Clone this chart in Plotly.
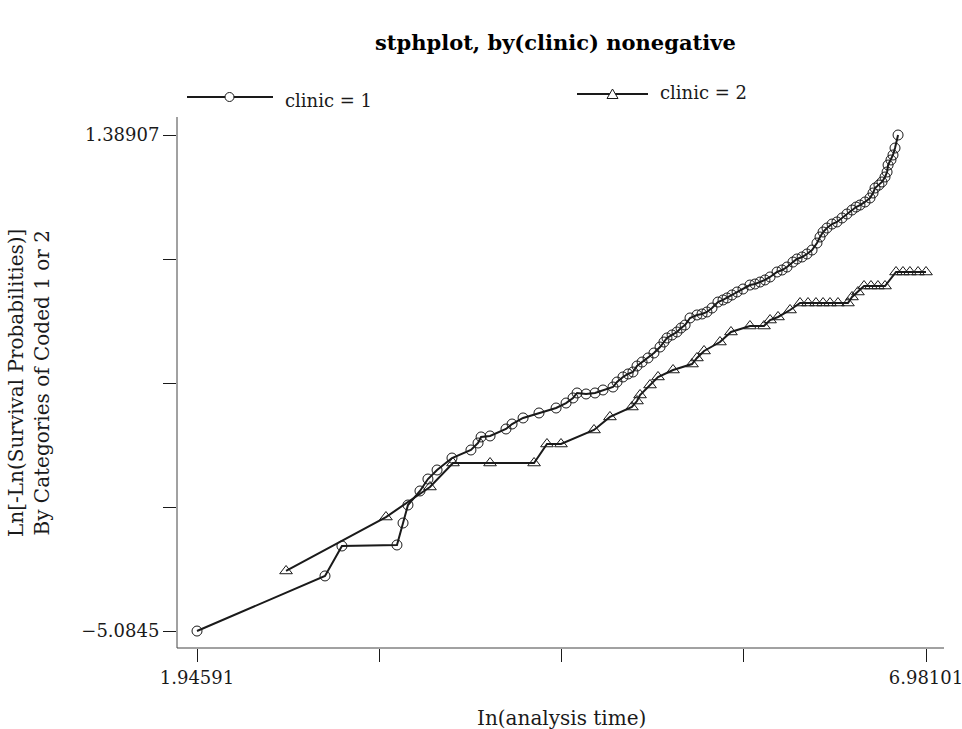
import plotly.graph_objects as go

# ln(analysis time) and ln[-ln(S)] for each clinic
clinic1_x = [1.946, 2.830, 2.947, 3.327, 3.369, 3.403, 3.486, 3.541, 3.604, 3.707,
             3.838, 3.887, 3.908, 3.970, 4.080, 4.122, 4.198, 4.308, 4.426, 4.495,
             4.543, 4.571, 4.633, 4.695, 4.750, 4.819, 4.847, 4.888, 4.923, 4.957,
             4.985, 5.020, 5.061, 5.102, 5.144, 5.171, 5.192, 5.227, 5.261, 5.289,
             5.317, 5.351, 5.399, 5.434, 5.468, 5.503, 5.544, 5.579, 5.607, 5.641,
             5.676, 5.717, 5.765, 5.800, 5.835, 5.869, 5.904, 5.952, 5.987, 6.021,
             6.062, 6.090, 6.125, 6.159, 6.194, 6.228, 6.249, 6.270, 6.297, 6.332,
             6.366, 6.401, 6.435, 6.470, 6.498, 6.525, 6.560, 6.594, 6.615, 6.629,
             6.656, 6.677, 6.698, 6.712, 6.719, 6.739, 6.753, 6.767, 6.788]
clinic1_y = [-5.085, -4.366, -3.975, -3.962, -3.675, -3.440, -3.257, -3.101, -2.983, -2.827,
             -2.722, -2.631, -2.552, -2.539, -2.448, -2.383, -2.304, -2.239, -2.174, -2.109,
             -2.043, -1.978, -1.991, -1.978, -1.939, -1.900, -1.835, -1.769, -1.730, -1.704,
             -1.626, -1.574, -1.521, -1.456, -1.378, -1.313, -1.260, -1.221, -1.182, -1.130,
             -1.091, -0.999, -0.960, -0.947, -0.921, -0.869, -0.791, -0.764, -0.738, -0.699,
             -0.660, -0.621, -0.569, -0.556, -0.530, -0.503, -0.464, -0.399, -0.373, -0.334,
             -0.269, -0.229, -0.203, -0.164, -0.112, -0.021, 0.058, 0.123, 0.175, 0.227,
             0.254, 0.306, 0.358, 0.410, 0.449, 0.475, 0.515, 0.567, 0.632, 0.697,
             0.736, 0.776, 0.841, 0.906, 0.997, 1.063, 1.128, 1.219, 1.389]

clinic2_x = [2.561, 3.251, 3.555, 3.714, 3.970, 4.274, 4.363, 4.460, 4.688, 4.798,
             4.950, 4.985, 5.006, 5.075, 5.130, 5.234, 5.365, 5.399, 5.448, 5.558,
             5.634, 5.765, 5.862, 5.904, 5.959, 6.042, 6.111, 6.166, 6.221, 6.270,
             6.318, 6.373, 6.442, 6.470, 6.511, 6.553, 6.601, 6.649, 6.698, 6.774,
             6.822, 6.870, 6.926, 6.981]
clinic2_y = [-4.301, -3.597, -3.205, -2.892, -2.892, -2.892, -2.644, -2.644, -2.461, -2.291,
             -2.161, -2.083, -2.004, -1.874, -1.769, -1.678, -1.600, -1.521, -1.430, -1.313,
             -1.182, -1.104, -1.104, -1.026, -0.986, -0.895, -0.804, -0.804, -0.804, -0.804,
             -0.804, -0.804, -0.804, -0.725, -0.660, -0.582, -0.582, -0.582, -0.582, -0.399,
             -0.399, -0.399, -0.399, -0.399]

x_ticks = [1.94591, 3.204685, 4.46346, 5.722235, 6.98101]
x_ticktext = ["1.94591", "", "", "", "6.98101"]
y_ticks = [-5.0845, -3.466107, -1.847715, -0.229322, 1.38907]
y_ticktext = ["\u22125.0845", "", "", "", "1.38907"]

FONT = "DejaVu Serif"
INK = "#1a1a1a"

fig = go.Figure()
fig.add_trace(go.Scatter(x=clinic1_x, y=clinic1_y, mode="lines+markers", name="clinic = 1",
                         line=dict(color=INK, width=2),
                         marker=dict(symbol="circle-open", size=10, color=INK, line=dict(width=1)),
                         cliponaxis=False))
fig.add_trace(go.Scatter(x=clinic2_x, y=clinic2_y, mode="lines+markers", name="clinic = 2",
                         line=dict(color=INK, width=2),
                         marker=dict(symbol="triangle-up-open", size=11, color=INK, line=dict(width=1)),
                         cliponaxis=False))

# hand-drawn legend (paper coords)
W, H = 767.0, 531.0
def px(x):
    return (x - 177) / W
def py(y):
    return (648 - y) / H

shapes = [
    # axis lines meeting at the corner
    dict(type="line", xref="paper", yref="paper", x0=0, x1=1, y0=0, y1=0,
         line=dict(color="#444", width=1)),
    dict(type="line", xref="paper", yref="paper", x0=0, x1=0, y0=0, y1=1,
         line=dict(color="#444", width=1)),
    # legend samples
    dict(type="line", xref="paper", yref="paper", x0=px(187), x1=px(273), y0=py(97), y1=py(97),
         line=dict(color=INK, width=2)),
    dict(type="circle", xref="paper", yref="paper", x0=px(225), x1=px(234), y0=py(101.5), y1=py(92.5),
         line=dict(color=INK, width=1), fillcolor="white"),
    dict(type="line", xref="paper", yref="paper", x0=px(577), x1=px(648), y0=py(94), y1=py(94),
         line=dict(color=INK, width=2)),
    dict(type="path", xref="paper", yref="paper",
         path=f"M {px(607)},{py(98.5)} L {px(618)},{py(98.5)} L {px(612.5)},{py(89)} Z",
         line=dict(color=INK, width=1), fillcolor="white"),
]

annotations = [
    dict(text="clinic = 1", xref="paper", yref="paper", x=px(283), y=py(100), xanchor="left",
         yanchor="middle", showarrow=False, font=dict(family=FONT, size=18, color=INK)),
    dict(text="clinic = 2", xref="paper", yref="paper", x=px(658), y=py(93), xanchor="left",
         yanchor="middle", showarrow=False, font=dict(family=FONT, size=18, color=INK)),
    dict(text="Ln[-Ln(Survival Probabilities)]<br>By Categories of Coded 1 or 2", xref="paper",
         yref="paper", x=px(29), y=py(383), textangle=-90, showarrow=False,
         font=dict(family=FONT, size=20, color=INK), xanchor="center", yanchor="middle"),
    dict(text="In(analysis time)", xref="paper", yref="paper", x=px(561), y=py(718),
         showarrow=False, font=dict(family=FONT, size=20, color=INK), xanchor="center",
         yanchor="middle"),
    dict(text="<b>stphplot, by(clinic) nonegative</b>", xref="paper", yref="paper", x=px(555),
         y=py(42), showarrow=False, font=dict(family=FONT, size=21, color="black"),
         xanchor="center", yanchor="middle"),
]

fig.update_layout(
    width=962, height=729,
    margin=dict(l=177, r=18, t=117, b=81, autoexpand=False),
    paper_bgcolor="white", plot_bgcolor="white",
    showlegend=False,
    shapes=shapes, annotations=annotations,
    font=dict(family=FONT, size=18, color=INK),
)
fig.update_xaxes(range=[1.8078, 7.1053], tickvals=x_ticks, ticktext=x_ticktext,
                 ticks="outside", ticklen=13, tickcolor=INK, showline=False,
                 showgrid=False, zeroline=False, ticklabeloverflow="allow", automargin=False)
fig.update_yaxes(range=[-5.3064, 1.6240], tickvals=y_ticks, ticktext=y_ticktext,
                 ticks="outside", ticklen=13, tickcolor=INK, showline=False,
                 showgrid=False, zeroline=False, automargin=False)

# drop the default 8px body margin so the figure sits at the window's corner
fig.write_html("out.html", config={"displayModeBar": False},
               post_script="document.body.style.margin='0';")
